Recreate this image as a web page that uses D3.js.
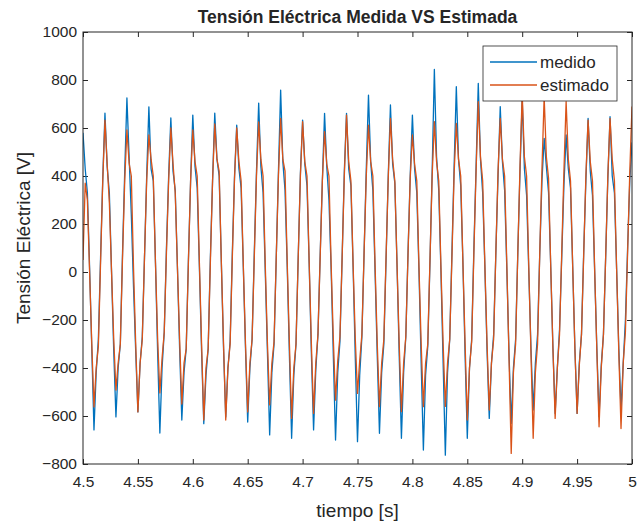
<!DOCTYPE html>
<html>
<head>
<meta charset="utf-8">
<script src="https://cdn.jsdelivr.net/npm/d3@7"></script>
<style>
  body { margin: 0; background: #fff; }
  text { font-family: "Liberation Sans", Arial, sans-serif; fill: #262626; }
</style>
</head>
<body>
<svg id="chart" width="640" height="524"></svg>
<script>
// sampled signal: one value every 2 ms from 4.5 s to 5.0 s
const t0 = 4.5;
const dt = 0.002;

// each row = one 20 ms cycle, starting at a peak
const medido = [
  580, 430, 330, 20, -320, -658, -420, -280, 60, 390,
  662, 440, 330, 0, -330, -604, -400, -300, 80, 420,
  725, 480, 240, -60, -330, -583, -380, -270, 60, 400,
  688, 430, 380, 40, -340, -671, -400, -250, 100, 400,
  642, 420, 340, 20, -320, -617, -420, -320, 50, 380,
  654, 440, 350, 20, -330, -632, -430, -320, 60, 380,
  662, 470, 400, 40, -320, -604, -400, -290, 80, 400,
  612, 430, 350, 20, -320, -625, -400, -280, 80, 420,
  704, 440, 330, 0, -340, -679, -420, -300, 60, 420,
  758, 460, 340, 20, -350, -693, -430, -300, 60, 410,
  633, 450, 360, 30, -340, -658, -410, -260, 70, 380,
  661, 440, 300, 10, -350, -700, -420, -290, 60, 420,
  661, 430, 360, 20, -360, -707, -430, -270, 80, 430,
  737, 460, 340, 0, -350, -672, -420, -300, 50, 400,
  696, 450, 370, 30, -350, -693, -420, -270, 80, 400,
  654, 430, 330, 0, -380, -742, -430, -310, 40, 420,
  844, 480, 340, 0, -380, -763, -420, -280, 80, 440,
  772, 470, 360, 40, -350, -693, -400, -280, 100, 440,
  786, 470, 330, 20, -330, -610, -380, -260, 80, 400,
  689, 460, 340, 10, -340, -631, -400, -280, 80, 420,
  720, 430, 320, 0, -320, -575, -380, -260, 80, 380,
  557, 440, 330, 20, -320, -589, -400, -240, 60, 360,
  571, 430, 350, 20, -320, -589, -380, -260, 80, 380,
  640, 420, 320, 0, -320, -603, -390, -260, 60, 390,
  647, 400, 330, 10, -320, -575, -380, -200, 100, 380,
  540
];

const estimado = [
  50, 370, 300, 0, -300, -562, -400, -310, 40, 380,
  633, 450, 290, 0, -280, -492, -380, -300, 60, 380,
  592, 454, 400, 20, -300, -583, -380, -280, 60, 380,
  571, 470, 400, 40, -280, -504, -360, -250, 80, 380,
  600, 450, 330, 20, -280, -550, -380, -320, 40, 380,
  592, 460, 400, 40, -300, -617, -400, -320, 40, 380,
  617, 470, 420, 40, -300, -617, -400, -300, 60, 390,
  600, 460, 380, 30, -300, -583, -380, -280, 60, 400,
  625, 470, 400, 30, -300, -554, -380, -290, 60, 400,
  640, 470, 420, 40, -300, -610, -400, -300, 60, 400,
  626, 460, 400, 40, -300, -589, -380, -260, 60, 380,
  585, 450, 400, 30, -280, -534, -370, -270, 60, 400,
  654, 460, 380, 30, -280, -506, -370, -260, 80, 400,
  612, 460, 400, 30, -300, -561, -380, -280, 60, 390,
  640, 470, 380, 30, -300, -582, -380, -270, 70, 390,
  571, 450, 380, 20, -300, -561, -380, -300, 50, 400,
  626, 460, 380, 20, -300, -560, -380, -280, 60, 410,
  619, 470, 400, 40, -300, -617, -400, -290, 80, 420,
  710, 480, 380, 30, -300, -575, -380, -280, 80, 420,
  640, 470, 400, 30, -360, -756, -420, -300, 80, 440,
  744, 480, 400, 20, -340, -693, -420, -300, 80, 430,
  730, 480, 390, 20, -320, -610, -400, -260, 80, 420,
  710, 470, 380, 20, -320, -589, -390, -260, 70, 400,
  633, 460, 380, 10, -330, -645, -400, -260, 60, 400,
  640, 470, 380, 10, -340, -652, -380, -250, 80, 420,
  690
];

const xTicks = [4.5, 4.55, 4.6, 4.65, 4.7, 4.75, 4.8, 4.85, 4.9, 4.95, 5];
const yTicks = [-800, -600, -400, -200, 0, 200, 400, 600, 800, 1000];
const seriesNames = ['medido', 'estimado'];
const seriesColors = ['#0072BD', '#D95319'];

const margin = { top: 32, right: 8, bottom: 60, left: 83 };
const W = 640, H = 524;
const iw = W - margin.left - margin.right;
const ih = H - margin.top - margin.bottom;

const svg = d3.select('#chart');

svg.append('defs').append('clipPath').attr('id', 'clip')
  .append('rect').attr('width', iw).attr('height', ih);

const g = svg.append('g').attr('transform', `translate(${margin.left},${margin.top})`);

const x = d3.scaleLinear().domain([4.5, 5]).range([0, iw]);
const y = d3.scaleLinear().domain([-800, 1000]).range([ih, 0]);

// axes (ticks inside, mirrored on top/right like matlab's box on)
const fmtX = d => String(+d.toFixed(2));
const axisStyle = sel => {
  sel.select('.domain').remove();
  sel.selectAll('line').attr('stroke', '#262626').attr('stroke-width', 1);
  sel.selectAll('text').attr('font-size', '15.5px').attr('fill', '#262626');
};

g.append('g').attr('transform', `translate(0,${ih})`)
  .call(d3.axisBottom(x).tickValues(xTicks).tickFormat(fmtX).tickSizeInner(-5).tickSizeOuter(0).tickPadding(12))
  .call(axisStyle);
g.append('g')
  .call(d3.axisTop(x).tickValues(xTicks).tickFormat('').tickSizeInner(-5).tickSizeOuter(0))
  .call(axisStyle);
g.append('g')
  .call(d3.axisLeft(y).tickValues(yTicks).tickFormat(d3.format('d')).tickSizeInner(-5).tickSizeOuter(0).tickPadding(6))
  .call(axisStyle);
g.append('g').attr('transform', `translate(${iw},0)`)
  .call(d3.axisRight(y).tickValues(yTicks).tickFormat('').tickSizeInner(-5).tickSizeOuter(0))
  .call(axisStyle);

// lines
const line = d3.line()
  .x((d, i) => x(t0 + i * dt))
  .y(d => y(d));

const plot = g.append('g').attr('clip-path', 'url(#clip)');
[medido, estimado].forEach((vals, k) => {
  plot.append('path')
    .datum(vals)
    .attr('fill', 'none')
    .attr('stroke', seriesColors[k])
    .attr('stroke-width', 1.3)
    .attr('stroke-linejoin', 'round')
    .attr('d', line);
});

// box
g.append('rect')
  .attr('x', 0).attr('y', 0).attr('width', iw).attr('height', ih)
  .attr('fill', 'none').attr('stroke', '#262626').attr('stroke-width', 1);

// legend
const lg = g.append('g').attr('transform', `translate(${483 - margin.left},${46 - margin.top})`);
lg.append('rect').attr('width', 134).attr('height', 55)
  .attr('fill', '#fff').attr('stroke', '#262626').attr('stroke-width', 0.8);
seriesNames.forEach((name, k) => {
  const yy = 16 + k * 23;
  lg.append('line').attr('x1', 7).attr('x2', 54).attr('y1', yy).attr('y2', yy)
    .attr('stroke', seriesColors[k]).attr('stroke-width', 1.3);
  lg.append('text').attr('x', 57).attr('y', yy + 6).attr('font-size', '17px').text(name);
});

// titles
svg.append('text')
  .attr('x', margin.left + iw / 2).attr('y', 23)
  .attr('text-anchor', 'middle').attr('font-size', '17.5px').attr('font-weight', 'bold')
  .attr('fill', '#000')
  .text('Tensión Eléctrica Medida VS Estimada');

svg.append('text')
  .attr('x', margin.left + iw / 2).attr('y', 517)
  .attr('text-anchor', 'middle').attr('font-size', '19px')
  .text('tiempo [s]');

svg.append('text')
  .attr('transform', `translate(30,${margin.top + ih / 2 - 10}) rotate(-90)`)
  .attr('text-anchor', 'middle').attr('font-size', '19px')
  .text('Tensión Eléctrica [V]');
</script>
</body>
</html>
